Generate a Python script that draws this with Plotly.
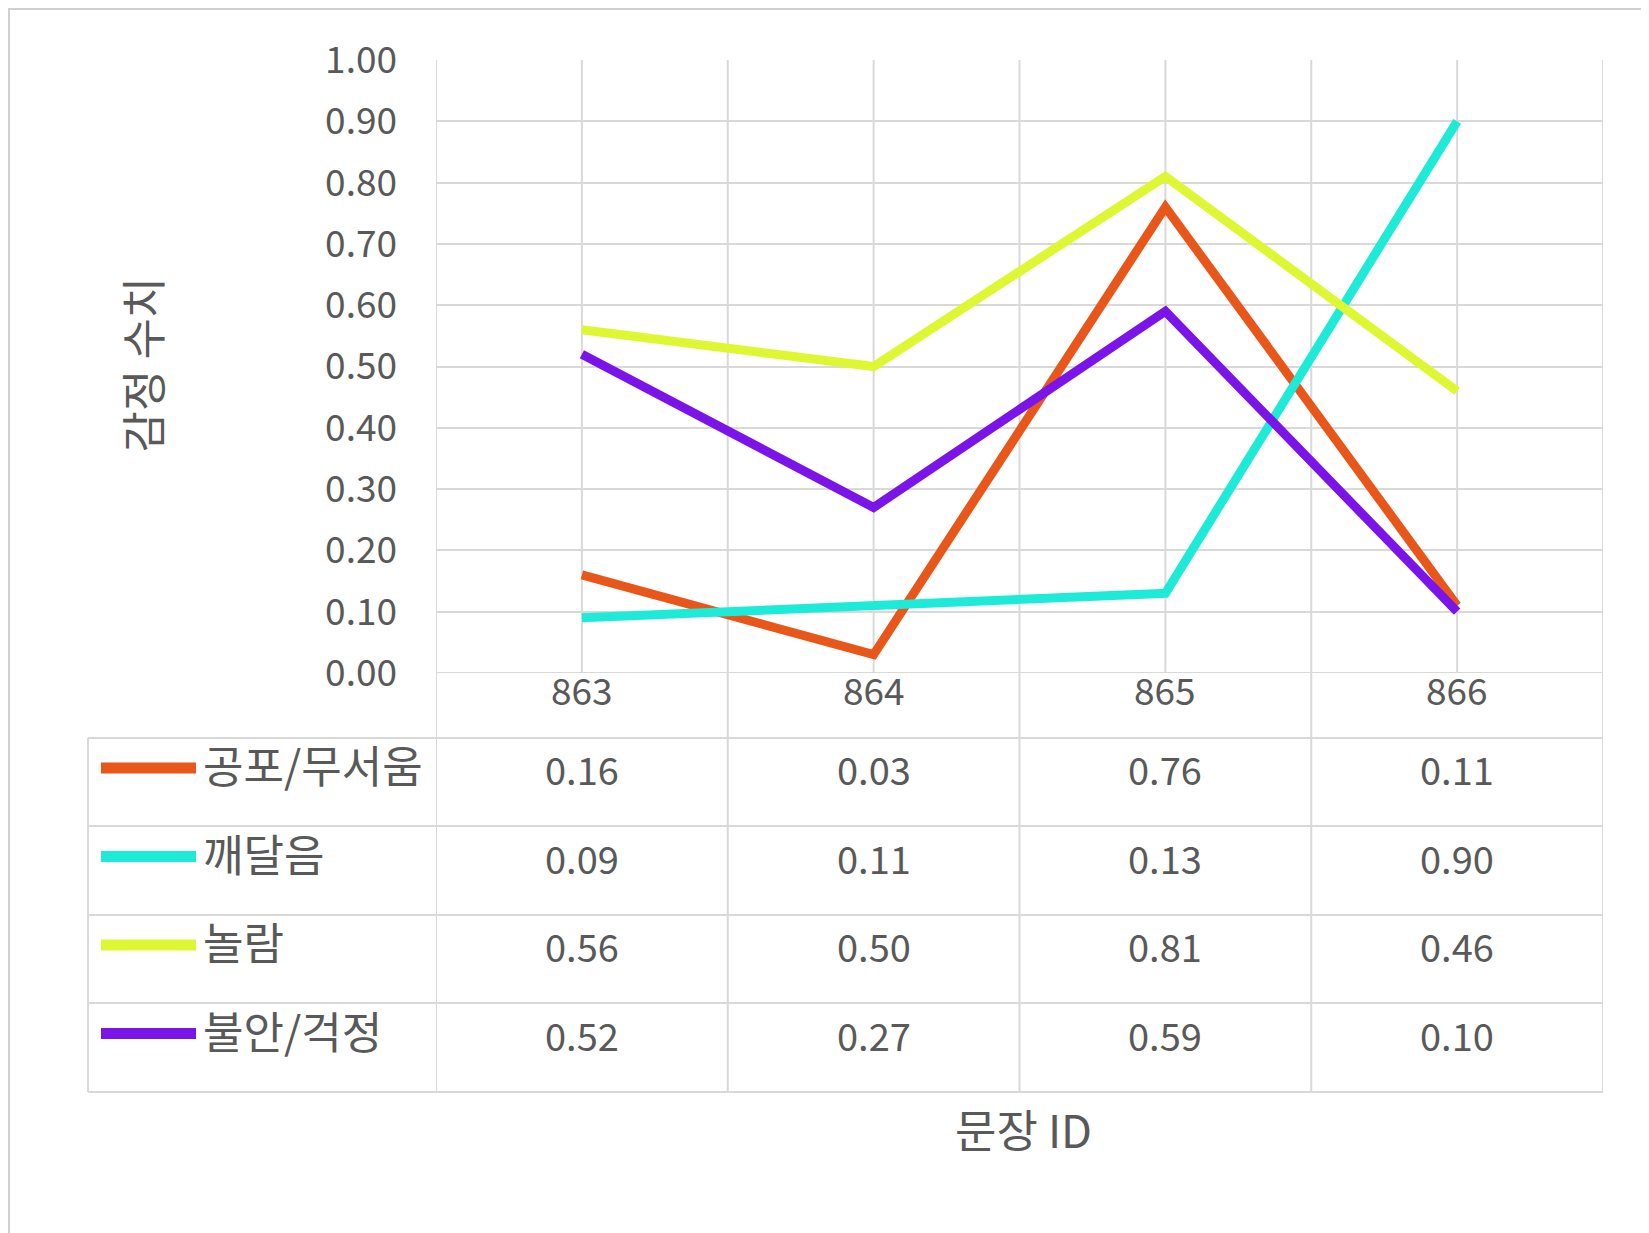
import plotly.graph_objects as go

sentence_ids = ["863", "864", "865", "866"]
series_names = ["공포/무서움", "깨달음", "놀람", "불안/걱정"]
fear = [0.16, 0.03, 0.76, 0.11]
realize = [0.09, 0.11, 0.13, 0.90]
surprise = [0.56, 0.50, 0.81, 0.46]
anxiety = [0.52, 0.27, 0.59, 0.10]
colors = ["#E8561A", "#1DEBD8", "#DDF733", "#7A14E8"]
y_ticks = [i / 10 for i in range(11)]

W, H = 1649, 1233
L, R, T, B = 428, 54, 52, 568
plot_h = H - T - B
plot_w = W - L - R

def py(px):  # pixel y -> paper y
    return (H - B - px) / plot_h

def px_(px):  # pixel x -> paper x
    return (px - L) / plot_w

FONT = "Noto Sans CJK KR, Open Sans, sans-serif"
GRID = "#D9D9D9"
TXT = "#595959"

fig = go.Figure()
all_series = [fear, realize, surprise, anxiety]
for name, vals, c in zip(series_names, all_series, colors):
    fig.add_trace(go.Scatter(x=list(range(4)), y=vals, mode="lines", name=name,
                             line=dict(color=c, width=9), showlegend=False))

shapes = []
for k in range(9):
    xv = -0.5 + k * 0.5
    shapes.append(dict(type="line", xref="x", yref="paper", x0=xv, x1=xv, y0=0, y1=1,
                       line=dict(color=GRID, width=2), layer="below"))

row_px = [665, 730, 818, 907, 995, 1084]
for k in range(5):
    xv = -0.5 + k
    shapes.append(dict(type="line", xref="x", yref="paper", x0=xv, x1=xv,
                       y0=py(row_px[-1]), y1=0, line=dict(color=GRID, width=2)))
for rp in row_px[1:]:
    shapes.append(dict(type="line", xref="paper", yref="paper", x0=px_(80), x1=1,
                       y0=py(rp), y1=py(rp), line=dict(color=GRID, width=2)))
shapes.append(dict(type="line", xref="paper", yref="paper", x0=px_(80), x1=px_(80),
                   y0=py(row_px[1]), y1=py(row_px[-1]), line=dict(color=GRID, width=2)))
shapes.append(dict(type="rect", xref="paper", yref="paper", x0=px_(1), x1=px_(W - 1),
                   y0=py(H - 1), y1=py(1), line=dict(color="#D0D0D0", width=2)))

annotations = []
for i, sid in enumerate(sentence_ids):
    annotations.append(dict(x=i, y=py((row_px[0] + row_px[1]) / 2), xref="x", yref="paper",
                            text=sid, showarrow=False, yshift=-12,
                            font=dict(size=37, color=TXT, family=FONT)))
for r, (name, vals, c) in enumerate(zip(series_names, all_series, colors)):
    yc = py((row_px[r + 1] + row_px[r + 2]) / 2)
    for i, v in enumerate(vals):
        annotations.append(dict(x=i, y=yc, xref="x", yref="paper", text=f"{v:.2f}",
                                showarrow=False, yshift=-16,
                                font=dict(size=38, color=TXT, family=FONT)))
    ykey = py((row_px[r + 1] + row_px[r + 2]) / 2 - 14)
    shapes.append(dict(type="line", xref="paper", yref="paper", x0=px_(93), x1=px_(188),
                       y0=ykey, y1=ykey, line=dict(color=c, width=11)))
    annotations.append(dict(x=px_(193), y=yc, xref="paper", yref="paper", text=name,
                            xanchor="left", showarrow=False, yshift=-16,
                            font=dict(size=44, color=TXT, family=FONT)))

annotations.append(dict(x=px_(1015), y=py(1155), xref="paper", yref="paper", text="문장 ID",
                        showarrow=False, font=dict(size=45, color=TXT, family=FONT)))
annotations.append(dict(x=px_(98), y=py(357), xref="paper", yref="paper", text="감정 수치",
                        textangle=-90, showarrow=False, font=dict(size=45, color=TXT, family=FONT)))

fig.update_layout(
    width=W, height=H,
    margin=dict(l=L, r=R, t=T, b=B),
    plot_bgcolor="white", paper_bgcolor="white",
    xaxis=dict(range=[-0.5, 3.5], showticklabels=False, showgrid=False, zeroline=False,
               showline=False, fixedrange=True),
    yaxis=dict(range=[0, 1], tickvals=y_ticks, tickformat=".2f", gridcolor=GRID, gridwidth=2,
               zeroline=False, showline=False, ticks="", ticklabelstandoff=38,
               tickfont=dict(size=37, color=TXT, family=FONT)),
    shapes=shapes, annotations=annotations,
)
fig.add_hline(y=0, line=dict(color=GRID, width=2))

fig.write_html("out.html")
